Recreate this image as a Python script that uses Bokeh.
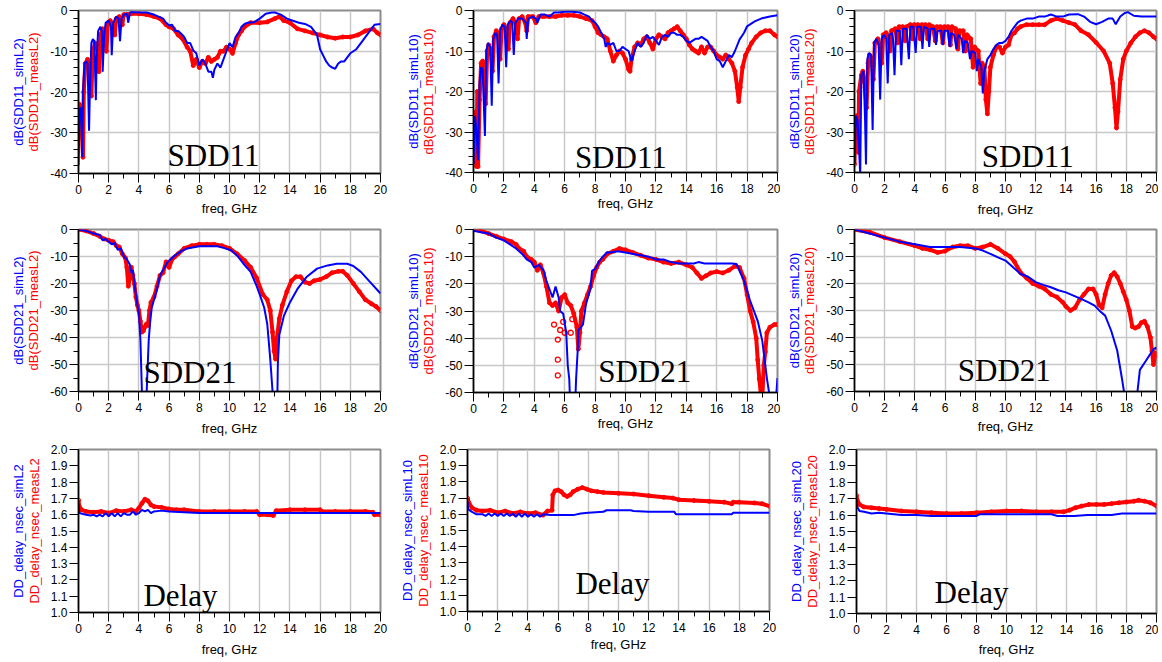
from bokeh.plotting import figure
from bokeh.layouts import column, row
from bokeh.models import Range1d, FixedTicker, LinearAxis, PrintfTickFormatter
from bokeh.core.properties import value
from bokeh.embed import file_html
from bokeh.resources import INLINE

# ---------------- data (freq GHz, value) ----------------
SDD11_L2_SIM = [(0,-38),(0.05,-30),(0.1,-24),(0.2,-24),(0.25,-36),(0.3,-20),(0.4,-13),(0.5,-12.5),(0.6,-13),(0.7,-29.5),(0.75,-20),(0.85,-8),(0.95,-7),(1.05,-7.5),(1.15,-22),(1.2,-12),(1.3,-5),(1.45,-4),(1.55,-5),(1.6,-15),(1.7,-6),(1.8,-3),(2.0,-2.5),(2.15,-4),(2.2,-11),(2.3,-3),(2.5,-1.5),(2.65,-2),(2.75,-7.5),(2.85,-2),(3.0,-1),(3.2,-0.8),(3.3,-3),(3.4,-0.5),(3.6,-0.4),(4.0,-0.5),(4.5,-0.5),(4.8,-0.8),(5.0,-1),(5.3,-1.5),(5.6,-2),(5.8,-3),(6.0,-3.7),(6.2,-3.5),(6.4,-5),(6.6,-5),(6.8,-5.7),(7.0,-6.5),(7.2,-8),(7.4,-8),(7.6,-9.8),(7.8,-10.5),(8.0,-13.5),(8.2,-12),(8.4,-13),(8.6,-15),(8.8,-15),(8.9,-16.5),(9.0,-14.5),(9.2,-13),(9.4,-14),(9.6,-12),(9.8,-10),(10.0,-8),(10.2,-9),(10.4,-6.5),(10.6,-5.5),(10.8,-4),(11.0,-3.3),(11.2,-3),(11.6,-2.9),(12.0,-2),(12.4,-0.8),(12.8,-0.5),(13.0,-0.5),(13.4,-1),(13.8,-2),(14.2,-2.5),(14.6,-3),(15.0,-3.3),(15.4,-4),(15.8,-6),(16.0,-9.5),(16.2,-11),(16.4,-12.5),(16.6,-13.5),(16.8,-14),(17.0,-14.3),(17.2,-13),(17.4,-12.5),(17.6,-12.5),(17.8,-11.5),(18.0,-10.5),(18.4,-9.5),(18.8,-7.5),(19.2,-5.5),(19.6,-3.5),(20.0,-3.3)]
SDD11_L2_MEAS = [(0,-27),(0.05,-23),(0.15,-25),(0.3,-36),(0.35,-20),(0.45,-13),(0.6,-12),(0.75,-15),(0.85,-21),(0.95,-10),(1.1,-8),(1.25,-9),(1.35,-15),(1.45,-6),(1.6,-4.5),(1.75,-5.5),(1.85,-10),(1.95,-3),(2.1,-2.5),(2.3,-4),(2.4,-6),(2.5,-2),(2.7,-1.5),(2.9,-3.5),(3.0,-1),(3.2,-1),(3.5,-0.8),(4.0,-0.8),(4.5,-1),(5.0,-1.5),(5.4,-2),(5.8,-3.5),(6.0,-4),(6.3,-4.5),(6.6,-6),(6.9,-7),(7.2,-9),(7.4,-10),(7.6,-13.5),(7.8,-12),(8.0,-14),(8.2,-12.5),(8.4,-13),(8.6,-11.5),(8.8,-12.5),(9.0,-12),(9.2,-11.5),(9.4,-10),(9.6,-10),(9.8,-9),(10.0,-9.5),(10.2,-10.5),(10.4,-8),(10.6,-6),(10.8,-5),(11.0,-4),(11.4,-3),(12.0,-3),(12.5,-2.8),(13.0,-2),(13.3,-1.5),(13.6,-2.5),(14.0,-3),(14.5,-4.5),(15.0,-5),(15.5,-5.5),(16.0,-6),(16.5,-6.5),(17.0,-6.8),(17.5,-6.5),(18.0,-6.5),(18.5,-6),(19.0,-5),(19.5,-4.5),(19.8,-5.5),(20.0,-6)]

SDD11_L10_SIM = [(0,-38),(0.1,-26),(0.2,-30),(0.3,-37),(0.4,-18),(0.5,-14),(0.6,-14.5),(0.75,-31),(0.85,-10),(0.95,-8),(1.1,-9),(1.2,-23.5),(1.3,-7),(1.45,-5.5),(1.55,-6),(1.65,-18),(1.75,-5),(1.9,-3.5),(2.05,-4),(2.15,-14),(2.25,-3.5),(2.45,-2.5),(2.55,-3),(2.65,-11),(2.75,-3),(2.95,-2),(3.2,-2),(3.45,-3),(3.5,-7),(3.6,-2),(3.9,-1.5),(4.1,-2),(4.2,-3),(4.4,-1),(4.7,-1),(5.0,-1.5),(5.3,-0.5),(5.6,-0.5),(6.0,-0.3),(6.5,-0.3),(7.0,-0.5),(7.3,-1),(7.6,-1.5),(7.8,-2.5),(8.0,-3),(8.2,-4),(8.4,-5.5),(8.6,-7),(8.7,-9),(8.8,-8),(9.0,-8.5),(9.2,-8),(9.4,-10),(9.6,-10),(9.8,-9),(10.0,-9.5),(10.2,-10),(10.4,-12.5),(10.6,-10),(10.8,-8),(11.0,-9),(11.2,-8),(11.4,-6),(11.6,-7),(11.8,-6.5),(12.0,-7.5),(12.2,-8.5),(12.4,-6.5),(12.6,-6),(12.8,-6.5),(13.0,-5.5),(13.2,-5.5),(13.4,-6),(13.6,-6),(13.8,-6.5),(14.0,-7.5),(14.2,-8),(14.4,-7.5),(14.6,-7),(14.8,-7),(15.0,-6.5),(15.2,-7),(15.4,-7.5),(15.6,-9),(15.8,-10),(16.0,-12),(16.2,-12.5),(16.4,-14),(16.6,-12.5),(16.8,-11),(17.0,-11.5),(17.2,-10),(17.5,-7.2),(17.8,-5.5),(18.0,-3.9),(18.5,-2.7),(19.0,-1.9),(19.5,-1.5),(20.0,-1.2)]
SDD11_L10_MEAS = [(0,-38),(0.05,-28),(0.15,-25),(0.2,-38.5),(0.25,-20),(0.3,-38.5),(0.4,-22),(0.5,-13),(0.6,-12.5),(0.7,-15),(0.8,-23),(0.9,-10),(1.0,-8.5),(1.15,-10),(1.25,-15),(1.35,-6.5),(1.5,-5),(1.65,-6),(1.75,-12),(1.85,-4.5),(2.0,-3.5),(2.2,-5),(2.3,-9.5),(2.4,-3),(2.6,-2),(2.8,-3.5),(2.9,-7),(3.0,-2),(3.2,-1.5),(3.4,-3),(3.5,-5),(3.6,-1.5),(3.9,-1.5),(4.1,-3),(4.3,-1.5),(4.6,-1.5),(5.0,-1.5),(5.4,-1.5),(5.8,-1.2),(6.2,-1.2),(6.6,-1.2),(7.0,-1.5),(7.4,-2),(7.8,-2.5),(8.0,-4),(8.2,-5.5),(8.4,-6),(8.6,-6.5),(8.8,-7),(9.0,-10),(9.2,-12.5),(9.4,-11),(9.6,-10),(9.8,-10.5),(10.0,-12),(10.2,-14.5),(10.3,-15),(10.4,-12),(10.6,-9),(10.8,-8),(11.0,-8.5),(11.2,-7),(11.4,-6.5),(11.6,-8),(11.8,-9.5),(12.0,-7),(12.2,-6),(12.4,-6.5),(12.6,-7),(12.8,-5.5),(13.0,-5),(13.2,-4.5),(13.4,-4),(13.6,-5),(13.8,-6),(14.0,-7),(14.2,-8.5),(14.4,-9.5),(14.6,-10),(14.8,-10.5),(15.0,-9),(15.2,-10.5),(15.4,-9),(15.6,-9),(15.8,-10),(16.0,-11),(16.2,-11.5),(16.4,-12),(16.6,-11),(16.8,-12),(17.0,-13),(17.2,-15),(17.35,-19),(17.45,-22.5),(17.55,-19),(17.7,-14),(17.9,-11),(18.1,-9.5),(18.3,-8),(18.6,-6.5),(18.9,-5.5),(19.2,-5),(19.5,-5),(19.8,-6),(20.0,-6.5)]

SDD11_L20_SIM = [(0,-38),(0.1,-26),(0.2,-27),(0.3,-34),(0.38,-40.5),(0.45,-16),(0.6,-15),(0.7,-27),(0.76,-38),(0.85,-12),(0.95,-10.5),(1.1,-11),(1.2,-29.5),(1.3,-8),(1.45,-7),(1.6,-8.5),(1.7,-22),(1.8,-7),(1.95,-6),(2.1,-7),(2.2,-18),(2.3,-6),(2.5,-5.5),(2.55,-7),(2.65,-16),(2.75,-5),(3.0,-5),(3.1,-13.5),(3.2,-4.5),(3.45,-4.5),(3.6,-12),(3.7,-4),(3.9,-4),(4.05,-10.5),(4.15,-4),(4.4,-4),(4.5,-9.5),(4.6,-4),(4.85,-4.5),(4.95,-9),(5.05,-4.5),(5.3,-4.5),(5.4,-8.5),(5.5,-5),(5.75,-5),(5.85,-8.5),(5.95,-5),(6.2,-5),(6.3,-9),(6.4,-5.5),(6.6,-6),(6.75,-9.5),(6.85,-6),(7.1,-7),(7.2,-10.5),(7.3,-7.5),(7.5,-8),(7.65,-12),(7.75,-10),(8.0,-10.5),(8.1,-15),(8.2,-12),(8.4,-14),(8.5,-20.5),(8.6,-15),(8.8,-12),(9.0,-11),(9.2,-9.5),(9.4,-8.5),(9.6,-8),(9.8,-8),(10.0,-7.5),(10.2,-6.5),(10.4,-5),(10.6,-4),(10.8,-3),(11.0,-2.5),(11.4,-2),(11.8,-2),(12.2,-1.5),(12.6,-1.5),(13.0,-1),(13.4,-1.5),(13.8,-1.5),(14.2,-1),(14.8,-0.9),(15.2,-1.5),(15.6,-2.8),(16.0,-3.4),(16.4,-2.8),(16.8,-2),(17.1,-2),(17.3,-3.4),(17.6,-1.5),(17.9,-0.6),(18.1,-0.4),(18.5,-1.3),(19.0,-1.5),(19.5,-1.5),(20.0,-1.5)]
SDD11_L20_MEAS = [(0,-38),(0.05,-28),(0.15,-26),(0.25,-35),(0.3,-20),(0.45,-16),(0.55,-15),(0.7,-19),(0.8,-24),(0.9,-13),(1.0,-11),(1.15,-12),(1.25,-17),(1.35,-8),(1.55,-7),(1.7,-9),(1.8,-13),(1.9,-6),(2.1,-5.5),(2.25,-7),(2.35,-10),(2.45,-5),(2.7,-4.5),(2.85,-8),(2.95,-4),(3.2,-4),(3.35,-7.5),(3.45,-4),(3.7,-3.5),(3.85,-7),(3.95,-3.5),(4.2,-3.5),(4.35,-7),(4.45,-3.5),(4.7,-3.5),(4.85,-7),(4.95,-3.5),(5.2,-4),(5.35,-7.5),(5.45,-4),(5.7,-4),(5.85,-8),(5.95,-4),(6.2,-4),(6.35,-8.5),(6.45,-4),(6.7,-4.5),(6.85,-9.5),(6.95,-5),(7.2,-5),(7.35,-10),(7.45,-6),(7.7,-7),(7.85,-14),(7.95,-9),(8.2,-10),(8.35,-18),(8.45,-13),(8.6,-14),(8.7,-22),(8.8,-25.5),(8.9,-20),(9.0,-14),(9.2,-11),(9.4,-9),(9.6,-9),(9.8,-10.5),(10.0,-9),(10.2,-8.5),(10.4,-6),(10.6,-5.5),(10.8,-4.5),(11.0,-4),(11.4,-3.5),(11.8,-3.5),(12.2,-3.5),(12.6,-3.5),(13.0,-2.5),(13.4,-2),(13.8,-2.5),(14.2,-3),(14.6,-3.5),(15.0,-5),(15.5,-6),(16.0,-7.9),(16.5,-10),(16.9,-13),(17.1,-18),(17.25,-24),(17.35,-29),(17.45,-25),(17.6,-17),(17.8,-12),(18.0,-10),(18.3,-8),(18.6,-6.5),(18.9,-5.5),(19.2,-5),(19.5,-5.5),(19.8,-6.5),(20.0,-7)]

SDD21_L2_SIM = [(0,0),(0.5,-0.5),(1.0,-1.5),(1.4,-2),(1.6,-4),(1.8,-3.5),(2.0,-4.5),(2.2,-5.5),(2.4,-5),(2.6,-7.5),(2.8,-7),(3.0,-10),(3.2,-11),(3.4,-13),(3.5,-16),(3.6,-15),(3.7,-20),(3.8,-24),(3.9,-28),(4.0,-31),(4.1,-41),(4.2,-60),(4.3,-70),(4.45,-70),(4.55,-55),(4.65,-41),(4.75,-34),(4.85,-29),(5.0,-26),(5.2,-22),(5.4,-17),(5.6,-15),(5.9,-12),(6.3,-10),(6.8,-8),(7.2,-7),(8.0,-6.2),(9.2,-6.2),(9.6,-6.8),(10.1,-7.7),(10.5,-9.6),(10.9,-12.5),(11.4,-15.7),(11.8,-21),(12.0,-24),(12.3,-29),(12.5,-35),(12.7,-48),(12.85,-60),(12.9,-70),(13.15,-70),(13.2,-50),(13.3,-39),(13.6,-32),(14.0,-27),(14.5,-22),(15.1,-17.6),(15.8,-14.5),(16.5,-13.3),(17.1,-12.7),(17.8,-12.7),(18.2,-13.5),(18.7,-15.7),(19.3,-19.4),(20.0,-23.7)]
SDD21_L2_MEAS = [(0,0),(0.5,-0.5),(1.0,-1.5),(1.4,-2.5),(1.7,-3.5),(2.0,-4),(2.3,-4.5),(2.5,-6),(2.7,-6.5),(2.9,-9),(3.1,-10.5),(3.2,-14),(3.3,-21),(3.4,-18),(3.5,-14),(3.6,-17),(3.7,-20),(3.8,-25),(3.9,-28),(4.0,-30),(4.1,-34),(4.2,-38),(4.3,-37.5),(4.4,-36),(4.5,-35),(4.6,-35.5),(4.7,-30),(4.8,-27),(5.0,-25),(5.2,-21),(5.4,-17),(5.6,-16),(5.8,-12),(6.0,-14),(6.2,-11),(6.4,-10),(6.6,-9),(7.0,-7),(7.5,-6),(8.0,-5.5),(8.5,-5.5),(9.0,-5.5),(9.5,-6),(10.0,-7),(10.5,-9),(11.0,-11.5),(11.4,-14),(11.8,-18),(12.2,-24),(12.5,-26),(12.7,-30),(12.85,-38),(12.95,-45),(13.05,-48),(13.15,-40),(13.3,-33),(13.5,-28),(13.8,-23),(14.1,-19),(14.4,-17.5),(14.7,-17.5),(15.0,-19.5),(15.3,-20),(15.6,-19),(16.0,-18.5),(16.4,-17.5),(16.8,-16),(17.2,-15.5),(17.5,-15.5),(17.8,-17),(18.2,-20),(18.6,-23),(19.0,-26),(19.4,-27.5),(19.7,-28.5),(20.0,-30)]

SDD21_L10_SIM = [(0,-0.5),(0.5,-1),(1.0,-1.5),(1.5,-3),(2.0,-4),(2.4,-5.5),(2.8,-7),(3.2,-9),(3.5,-11),(3.8,-12),(4.0,-14),(4.3,-13),(4.6,-15),(4.8,-19),(5.0,-22),(5.2,-25),(5.4,-21),(5.6,-25),(5.7,-30),(5.9,-31),(6.1,-38),(6.2,-50),(6.3,-55),(6.4,-70),(6.65,-70),(6.75,-55),(6.85,-45),(6.9,-37),(7.2,-35),(7.4,-27.5),(7.7,-21.4),(7.8,-15.2),(8.0,-14.5),(8.3,-11.5),(8.5,-10),(8.8,-8.4),(9.0,-8.5),(9.5,-8),(10.0,-8.5),(10.5,-9),(11.0,-9.5),(11.5,-10),(12.0,-11),(12.5,-11),(13.0,-12),(13.5,-12.5),(14.0,-12.5),(14.5,-12.5),(14.8,-12),(15.2,-12.5),(16.0,-12.5),(17.0,-12.5),(17.3,-12.7),(17.8,-18.9),(18.2,-26.3),(18.7,-33.7),(19.0,-41),(19.3,-54.7),(19.5,-62),(19.9,-62),(20.0,-54.7)]
SDD21_L10_MEAS = [(0,0),(0.5,-0.5),(1.0,-1.5),(1.5,-2.5),(2.0,-3.5),(2.5,-4.5),(2.8,-5.5),(3.0,-7),(3.3,-8),(3.5,-10),(3.8,-11),(4.0,-12),(4.2,-15),(4.4,-13),(4.6,-16),(4.8,-21),(5.0,-27),(5.2,-28),(5.4,-27),(5.6,-30),(5.8,-25),(6.0,-24),(6.2,-27),(6.4,-28),(6.6,-31),(6.8,-36),(6.9,-44),(7.0,-38),(7.1,-30),(7.3,-27),(7.5,-24),(7.7,-21),(7.9,-17),(8.1,-14),(8.3,-12),(8.5,-11),(8.8,-9),(9.2,-8),(9.6,-7),(10.0,-7.5),(10.5,-8.5),(11.0,-9.5),(11.5,-10.5),(12.0,-11),(12.5,-12),(13.0,-12.5),(13.5,-12),(14.0,-13),(14.4,-14),(14.7,-16),(15.0,-18),(15.3,-17),(15.6,-16),(16.0,-15.5),(16.4,-16),(16.8,-15),(17.2,-13.5),(17.5,-14),(17.8,-18),(18.0,-24),(18.2,-30),(18.4,-34),(18.6,-40),(18.7,-48),(18.8,-55),(18.9,-60),(19.0,-62),(19.1,-50),(19.2,-45),(19.3,-38),(19.5,-36),(19.8,-35),(20.0,-35)]
SDD21_L10_MEAS_STRAY = [(5.55,-40.5),(5.55,-47.9),(5.55,-53.7),(5.3,-35),(5.7,-37),(5.9,-34),(6.0,-38),(6.4,-38),(6.5,-33)]

SDD21_L20_SIM = [(0,0),(1.0,-1.5),(2.0,-3),(3.0,-4.5),(4.0,-5.5),(5.0,-6.5),(6.0,-6.5),(7.0,-6.5),(8.0,-7),(8.5,-7.8),(9.0,-9),(9.5,-10.3),(10.0,-11.5),(10.5,-14),(11.0,-16.5),(11.5,-17.5),(12.0,-19.5),(12.5,-20.5),(13.0,-21.4),(13.5,-22.5),(14.0,-23.3),(14.5,-24.5),(15.0,-25.7),(15.5,-27),(15.9,-28.2),(16.3,-30.5),(16.6,-31.9),(17.0,-37.5),(17.4,-44.9),(17.7,-54.8),(17.9,-62),(18.7,-62),(18.9,-52),(19.3,-48.6),(19.8,-44.3),(20.0,-43.7)]
SDD21_L20_MEAS = [(0,0),(1.0,-1),(2.0,-3),(3.0,-4.5),(4.0,-6),(4.5,-7),(5.0,-7.5),(5.5,-8.5),(6.0,-8),(6.5,-6.5),(7.0,-6),(7.5,-6),(8.0,-7),(8.5,-6.5),(9.0,-5.5),(9.5,-7),(10.0,-9),(10.3,-10),(10.6,-12),(11.0,-16),(11.4,-18),(11.8,-20),(12.2,-21),(12.6,-22),(13.0,-24),(13.4,-25),(13.8,-27),(14.0,-28.5),(14.3,-30),(14.6,-29),(14.9,-26),(15.2,-24),(15.5,-22),(15.8,-22),(16.0,-24),(16.2,-28),(16.4,-29),(16.6,-24),(16.8,-20),(17.0,-17),(17.2,-16),(17.4,-17.5),(17.6,-20),(17.8,-23),(18.0,-26),(18.2,-30),(18.4,-36),(18.6,-36.5),(18.8,-36),(19.0,-34.5),(19.2,-34),(19.4,-36),(19.6,-40),(19.7,-45),(19.8,-50),(19.9,-47),(20.0,-45)]

DELAY_L2_SIM = [(0,1.67),(0.05,1.61),(0.5,1.60),(0.8,1.595),(1.0,1.60),(1.2,1.59),(1.4,1.60),(1.6,1.59),(1.8,1.61),(2.0,1.59),(2.2,1.61),(2.4,1.59),(2.6,1.61),(2.8,1.59),(3.0,1.61),(3.2,1.60),(3.4,1.60),(3.6,1.62),(3.8,1.60),(4.0,1.61),(4.2,1.63),(4.4,1.62),(4.6,1.63),(4.8,1.61),(5.0,1.62),(5.5,1.625),(6.0,1.62),(7.0,1.615),(8.0,1.61),(10,1.61),(12,1.61),(14,1.61),(16,1.61),(18,1.61),(20,1.61)]
DELAY_L2_MEAS = [(0,1.69),(0.05,1.65),(0.2,1.63),(0.5,1.62),(1.0,1.615),(1.5,1.62),(2.0,1.61),(2.5,1.625),(3.0,1.62),(3.5,1.63),(3.8,1.62),(4.0,1.64),(4.2,1.67),(4.4,1.695),(4.6,1.685),(4.8,1.66),(5.0,1.65),(5.5,1.645),(6.0,1.635),(6.5,1.63),(7.0,1.63),(8.0,1.62),(9.0,1.62),(10,1.62),(11,1.62),(11.8,1.62),(12.0,1.60),(12.5,1.60),(12.9,1.595),(13.1,1.625),(14,1.63),(15,1.63),(16,1.63),(16.1,1.62),(17,1.62),(18,1.62),(19,1.62),(19.5,1.615),(19.6,1.60),(20,1.60)]

DELAY_L10_SIM = [(0,1.68),(0.05,1.63),(0.3,1.615),(0.6,1.60),(1.0,1.60),(1.2,1.59),(1.4,1.605),(1.6,1.59),(1.8,1.605),(2.0,1.59),(2.2,1.605),(2.4,1.59),(2.6,1.605),(2.8,1.59),(3.0,1.605),(3.2,1.585),(3.4,1.605),(3.6,1.585),(3.8,1.605),(4.0,1.585),(4.2,1.60),(4.4,1.585),(4.6,1.60),(4.8,1.585),(5.0,1.60),(5.5,1.595),(6.0,1.595),(7.0,1.595),(7.5,1.605),(8.0,1.61),(9.0,1.615),(9.2,1.625),(10.0,1.625),(10.8,1.625),(11.0,1.62),(12.0,1.615),(13.7,1.615),(13.8,1.60),(15.0,1.60),(17.5,1.60),(17.6,1.61),(20.0,1.61)]
DELAY_L10_MEAS = [(0,1.70),(0.1,1.67),(0.3,1.64),(0.6,1.625),(1.0,1.62),(1.5,1.625),(2.0,1.61),(2.5,1.62),(3.0,1.605),(3.5,1.615),(4.0,1.605),(4.5,1.61),(5.0,1.595),(5.3,1.62),(5.6,1.625),(5.65,1.72),(5.8,1.745),(6.0,1.75),(6.2,1.74),(6.4,1.72),(6.6,1.71),(6.8,1.72),(7.0,1.74),(7.3,1.755),(7.6,1.765),(7.9,1.755),(8.2,1.745),(8.6,1.74),(9.0,1.735),(10,1.73),(11,1.725),(12,1.715),(13,1.705),(13.6,1.70),(14,1.69),(15,1.685),(16,1.68),(17,1.675),(17.5,1.665),(17.6,1.675),(18,1.675),(19,1.67),(19.5,1.665),(20,1.65)]

DELAY_L20_SIM = [(0,1.70),(0.05,1.65),(0.2,1.625),(0.5,1.62),(1.0,1.61),(1.5,1.615),(2.0,1.61),(2.5,1.605),(3.0,1.60),(4,1.60),(5,1.595),(6,1.595),(7,1.595),(8,1.595),(8.2,1.605),(9,1.605),(10,1.605),(11,1.605),(12,1.605),(13,1.605),(13.4,1.595),(14.5,1.595),(15.4,1.60),(16,1.60),(17,1.60),(17.7,1.61),(20,1.61)]
DELAY_L20_MEAS = [(0,1.72),(0.05,1.69),(0.2,1.665),(0.5,1.65),(1.0,1.645),(1.5,1.64),(2.0,1.635),(3.0,1.625),(4.0,1.62),(5.0,1.615),(6.0,1.61),(7.0,1.61),(8.0,1.615),(9.0,1.62),(10,1.625),(11,1.625),(12,1.62),(13,1.62),(13.8,1.62),(14.2,1.63),(14.6,1.645),(15.0,1.655),(15.5,1.665),(16,1.665),(16.5,1.665),(17,1.67),(17.5,1.675),(18,1.68),(18.5,1.685),(18.8,1.69),(19.2,1.685),(19.6,1.675),(20,1.655)]

X_TICKS = [0, 2, 4, 6, 8, 10, 12, 14, 16, 18, 20]
X_MINOR = [1, 3, 5, 7, 9, 11, 13, 15, 17, 19]
S11_TICKS = [-40, -30, -20, -10, 0]
S11_MINOR = [-38, -36, -34, -32, -28, -26, -24, -22, -18, -16, -14, -12, -8, -6, -4, -2]
S21_TICKS = [-60, -50, -40, -30, -20, -10, 0]
S21_MINOR = [-55, -45, -35, -25, -15, -5]
DELAY_TICKS = [1.0, 1.1, 1.2, 1.3, 1.4, 1.5, 1.6, 1.7, 1.8, 1.9, 2.0]

BLUE = "#0000ff"
RED = "#ff0000"
SANS = "Liberation Sans"
SERIF = "Liberation Serif"

KIND = {
    "s11": dict(yr=(-40, 0), ticks=S11_TICKS, minor=S11_MINOR, fmt="%d", ygrid=True),
    "s21": dict(yr=(-60, 0), ticks=S21_TICKS, minor=S21_MINOR, fmt="%d", ygrid=True),
    "dly": dict(yr=(1.0, 2.0), ticks=DELAY_TICKS, minor=[], fmt="%.1f", ygrid=False),
}

# layout: frame size (FW, FH), borders (L, R, T, B), xs = x-label standoff
PANELS = [
    # row 1 (height 222)
    dict(kind="s11", sim=SDD11_L2_SIM, meas=SDD11_L2_MEAS, lab=("dB(SDD11_simL2)", "dB(SDD11_measL2)"),
         title="SDD11", tpos=(5.9, -35.6), FW=302, FH=163, L=78, R=10, T=10, B=49, xs=4),
    dict(kind="s11", sim=SDD11_L10_SIM, meas=SDD11_L10_MEAS, lab=("dB(SDD11_simL10)", "dB(SDD11_measL10)"),
         title="SDD11", tpos=(6.67, -36.3), FW=304, FH=162, L=83, R=3, T=7, B=53, xs=0),
    dict(kind="s11", sim=SDD11_L20_SIM, meas=SDD11_L20_MEAS, lab=("dB(SDD11_simL20)", "dB(SDD11_measL20)"),
         title="SDD11", tpos=(8.43, -36.0), FW=302, FH=162, L=74, R=2, T=8, B=52, xs=6),
    # row 2 (height 219)
    dict(kind="s21", sim=SDD21_L2_SIM, meas=SDD21_L2_MEAS, lab=("dB(SDD21_simL2)", "dB(SDD21_measL2)"),
         title="SDD21", tpos=(4.3, -53.0), FW=302, FH=162, L=78, R=10, T=5, B=52, xs=6),
    dict(kind="s21", sim=SDD21_L10_SIM, meas=SDD21_L10_MEAS, lab=("dB(SDD21_simL10)", "dB(SDD21_measL10)"),
         title="SDD21", tpos=(8.2, -52.3), FW=304, FH=163, L=83, R=3, T=6, B=50, xs=0, stray=SDD21_L10_MEAS_STRAY),
    dict(kind="s21", sim=SDD21_L20_SIM, meas=SDD21_L20_MEAS, lab=("dB(SDD21_simL20)", "dB(SDD21_measL20)"),
         title="SDD21", tpos=(6.84, -52.2), FW=302, FH=162, L=74, R=2, T=7, B=50, xs=4),
    # row 3 (height 220)
    dict(kind="dly", sim=DELAY_L2_SIM, meas=DELAY_L2_MEAS, lab=("DD_delay_nsec_simL2", "DD_delay_nsec_measL2"),
         title="Delay", tpos=(4.3, 1.104), FW=302, FH=163, L=78, R=10, T=1, B=56, xs=6),
    dict(kind="dly", sim=DELAY_L10_SIM, meas=DELAY_L10_MEAS, lab=("DD_delay_nsec_simL10", "DD_delay_nsec_measL10"),
         title="Delay", tpos=(7.15, 1.173), FW=302, FH=162, L=77, R=11, T=8, B=50, xs=2),
    dict(kind="dly", sim=DELAY_L20_SIM, meas=DELAY_L20_MEAS, lab=("DD_delay_nsec_simL20", "DD_delay_nsec_measL20"),
         title="Delay", tpos=(5.2, 1.128), FW=300, FH=164, L=76, R=2, T=2, B=54, xs=5),
]


def style_axis(ax):
    ax.axis_line_color = "black"
    ax.axis_line_width = 1.5
    ax.major_tick_in = 0
    ax.major_tick_out = 9
    ax.minor_tick_in = 0
    ax.minor_tick_out = 5
    ax.major_tick_line_color = "black"
    ax.minor_tick_line_color = "black"
    ax.major_label_text_font = SANS
    ax.major_label_text_font_size = "12px"
    ax.major_label_text_color = "black"
    ax.major_label_standoff = 2
    ax.axis_label_text_font = SANS
    ax.axis_label_text_font_size = "13px"
    ax.axis_label_text_font_style = "normal"


def make_panel(c):
    k = KIND[c["kind"]]
    p = figure(frame_width=c["FW"], frame_height=c["FH"],
               x_range=Range1d(0, 20), y_range=Range1d(*k["yr"]),
               output_backend="svg", toolbar_location=None,
               min_border_left=c["L"], min_border_right=c["R"],
               min_border_top=c["T"], min_border_bottom=c["B"])
    p.background_fill_color = "white"
    p.outline_line_color = "#8c8c8c"
    p.outline_line_width = 2

    xa = p.xaxis[0]
    ya = p.yaxis[0]
    style_axis(xa)
    style_axis(ya)
    xa.ticker = FixedTicker(ticks=X_TICKS, minor_ticks=X_MINOR)
    xa.formatter = PrintfTickFormatter(format="%d")
    xa.axis_label = "freq, GHz"
    xa.axis_label_text_color = "black"
    xa.axis_label_standoff = c["xs"]

    ya.ticker = FixedTicker(ticks=k["ticks"], minor_ticks=k["minor"])
    ya.formatter = PrintfTickFormatter(format=k["fmt"])
    ya.axis_label = c["lab"][1]
    ya.axis_label_text_color = RED
    ya.axis_label_standoff = 6

    ya2 = LinearAxis(ticker=FixedTicker(ticks=[]), axis_label=c["lab"][0],
                     axis_line_color=None, major_tick_line_color=None, minor_tick_line_color=None,
                     major_tick_out=0, minor_tick_out=0, major_label_standoff=0,
                     major_label_text_font_size="0px", axis_label_standoff=-2,
                     axis_label_text_color=BLUE, axis_label_text_font=SANS,
                     axis_label_text_font_size="13px", axis_label_text_font_style="normal")
    p.add_layout(ya2, "left")

    p.xgrid.grid_line_color = "#c8c8c8"
    p.xgrid.grid_line_width = 1.5
    if k["ygrid"]:
        p.ygrid.grid_line_color = "#c8c8c8"
        p.ygrid.grid_line_width = 1.5
    else:
        p.ygrid.grid_line_color = None

    mx = [a for a, b in c["meas"]]
    my = [b for a, b in c["meas"]]
    p.line(mx, my, line_color=RED, line_width=4, line_join="round")
    p.scatter(mx, my, marker="circle", size=4, line_color=RED, line_width=1, fill_color=None)
    if "stray" in c:
        sx = [a for a, b in c["stray"]]
        sy = [b for a, b in c["stray"]]
        p.scatter(sx, sy, marker="circle", size=5, line_color=RED, line_width=1.3, fill_color=None)

    sx = [a for a, b in c["sim"]]
    sy = [b for a, b in c["sim"]]
    p.line(sx, sy, line_color=BLUE, line_width=2)

    p.text(x=[c["tpos"][0]], y=[c["tpos"][1]], text=[c["title"]],
           text_font=value(SERIF), text_font_size="31px", text_color="black",
           text_align="left", text_baseline="alphabetic")
    return p


figs = [make_panel(c) for c in PANELS]
layout = column(row(*figs[0:3]), row(*figs[3:6]), row(*figs[6:9]))

with open("out.html", "w") as f:
    f.write(file_html(layout, INLINE))
